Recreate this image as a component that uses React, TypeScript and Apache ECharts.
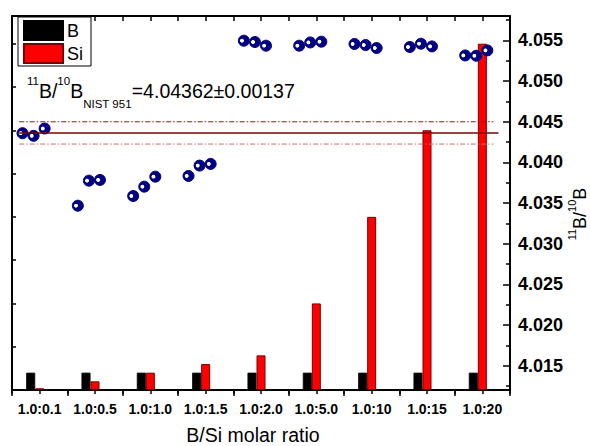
import React, { useEffect, useRef } from 'react';
import * as echarts from 'echarts';

const categories = ['1.0:0.1', '1.0:0.5', '1.0:1.0', '1.0:1.5', '1.0:2.0', '1.0:5.0', '1.0:10', '1.0:15', '1.0:20'];
const bMolar = [1, 1, 1, 1, 1, 1, 1, 1, 1];
const siMolar = [0.1, 0.5, 1.0, 1.5, 2.0, 5.0, 10, 15, 20];
const ratioRep1 = [4.04359, 4.03467, 4.03586, 4.03833, 4.05496, 4.05435, 4.05456, 4.05419, 4.05315];
const ratioRep2 = [4.04326, 4.03775, 4.03701, 4.0396, 4.0548, 4.05475, 4.05443, 4.05459, 4.05311];
const ratioRep3 = [4.04416, 4.03784, 4.03824, 4.03981, 4.05435, 4.05484, 4.05406, 4.05426, 4.05377];
const replicateOffsets = [-0.31, -0.11, 0.09];
const refRatio = 4.04362;
const refSD = 0.00137;

const FONT = '"Liberation Sans", Arial, Helvetica, sans-serif';

export default function App() {
  const ref = useRef<HTMLDivElement>(null);
  useEffect(() => {
    if (!ref.current) return;
    const chart = echarts.init(ref.current, null, { renderer: 'svg' });
    const reps = [ratioRep1, ratioRep2, ratioRep3];
    const scatterData: number[][] = [];
    categories.forEach((_, i) => {
      reps.forEach((r, k) => scatterData.push([i + 0.5 + replicateOffsets[k], r[i]]));
    });
    const halfCats = Array.from({ length: categories.length * 2 }, (_, i) => String(i));
    const solidSpan = [0.13, 8.79];
    const dashSpan = [0.13, 8.7];
    const axisLine = { show: true, lineStyle: { color: '#000', width: 2 } };

    chart.setOption({
      animation: false,
      backgroundColor: '#fff',
      textStyle: { fontFamily: FONT },
      grid: { left: 12, right: 80, top: 16, bottom: 56, containLabel: false },
      legend: {
        left: 18,
        top: 17,
        orient: 'vertical',
        data: ['B', 'Si'],
        icon: 'rect',
        itemWidth: 39,
        itemHeight: 19,
        itemGap: 2,
        padding: [3, 8, 2, 5],
        borderColor: '#000',
        borderWidth: 1,
        backgroundColor: '#fff',
        textStyle: { fontFamily: FONT, fontSize: 18, color: '#000', padding: [0, 0, 0, -1] },
        z: 10,
      },
      xAxis: [
        {
          type: 'category',
          data: categories,
          position: 'bottom',
          boundaryGap: true,
          axisLine,
          axisTick: { show: true, inside: false, length: 6, alignWithLabel: false, lineStyle: { color: '#000', width: 1.5 } },
          axisLabel: { show: true, fontFamily: FONT, fontSize: 14, fontWeight: 'bold', color: '#000', margin: 12, interval: 0 },
          splitLine: { show: false },
        },
        {
          type: 'category',
          data: halfCats,
          position: 'bottom',
          boundaryGap: true,
          axisLine: { show: false },
          axisTick: { show: true, inside: false, length: 4, lineStyle: { color: '#000', width: 1.5 } },
          axisLabel: { show: false },
          splitLine: { show: false },
        },
        {
          type: 'category',
          data: halfCats,
          position: 'top',
          boundaryGap: true,
          axisLine,
          axisTick: { show: true, inside: true, length: 5, lineStyle: { color: '#000', width: 1.5 } },
          axisLabel: { show: false },
          splitLine: { show: false },
        },
        {
          type: 'value',
          min: 0,
          max: categories.length,
          show: false,
        },
      ],
      yAxis: [
        {
          type: 'value',
          position: 'left',
          min: 0,
          max: 21.6,
          interval: 2.5,
          axisLine,
          axisTick: { show: true, inside: true, length: 4, lineStyle: { color: '#000', width: 1.5 } },
          axisLabel: { show: false },
          splitLine: { show: false },
        },
        {
          type: 'value',
          position: 'right',
          min: 4.012,
          max: 4.058,
          splitNumber: 9,
          axisLine,
          axisTick: { show: true, inside: true, length: 7, lineStyle: { color: '#000', width: 1.5 } },
          minorTick: { show: true, splitNumber: 2, length: 4, lineStyle: { color: '#000', width: 1.5 } },
          axisLabel: {
            show: true,
            fontFamily: FONT,
            fontSize: 18,
            fontWeight: 'bold',
            color: '#000',
            margin: 8,
            showMinLabel: false,
            showMaxLabel: false,
            formatter: (v: number) => (Math.abs(v * 200 - Math.round(v * 200)) < 1e-6 ? v.toFixed(3) : ''),
          },
          splitLine: { show: false },
          minorSplitLine: { show: false },
        },
      ],
      graphic: [
        {
          type: 'text',
          x: 27,
          y: 91,
          z: 20,
          style: {
            text: `{a|11}{b|B/}{a|10}{b|B}{c|NIST 951}{b|=${refRatio.toFixed(5)}±${refSD.toFixed(5)}}`,
            fontFamily: FONT,
            verticalAlign: 'middle',
            align: 'left',
            fill: '#000',
            rich: {
              a: { fontSize: 11.5, fontFamily: FONT, fill: '#000', padding: [0, 0, 20, 0] },
              b: { fontSize: 19.5, fontFamily: FONT, fill: '#000' },
              c: { fontSize: 11.5, fontFamily: FONT, fill: '#000', padding: [26, 0, 0, 0] },
            },
          },
        },
        {
          type: 'text',
          x: 580,
          y: 214,
          rotation: Math.PI / 2,
          z: 20,
          style: {
            text: '{a|11}{b|B/}{a|10}{b|B}',
            fontFamily: FONT,
            verticalAlign: 'middle',
            align: 'center',
            fill: '#000',
            rich: {
              a: { fontSize: 11, fontFamily: FONT, fill: '#000', padding: [0, 0, 16, 0] },
              b: { fontSize: 18, fontFamily: FONT, fill: '#000' },
            },
          },
        },
        {
          type: 'text',
          x: 253,
          y: 435,
          z: 20,
          style: {
            text: 'B/Si molar ratio',
            fontFamily: FONT,
            fontSize: 19.5,
            fill: '#000',
            align: 'center',
            verticalAlign: 'middle',
          },
        },
      ],
      series: [
        {
          name: 'B',
          type: 'bar',
          xAxisIndex: 0,
          yAxisIndex: 0,
          data: bMolar,
          barWidth: 9,
          barGap: '0%',
          itemStyle: { color: '#000', borderColor: '#000', borderWidth: 0.8 },
        },
        {
          name: 'Si',
          type: 'bar',
          xAxisIndex: 0,
          yAxisIndex: 0,
          data: siMolar,
          barWidth: 9,
          barGap: '0%',
          itemStyle: { color: '#ff0000', borderColor: '#7a0000', borderWidth: 1 },
        },
        {
          name: '_pad',
          type: 'bar',
          xAxisIndex: 0,
          yAxisIndex: 0,
          data: categories.map(() => null),
          barWidth: 9,
          barGap: '0%',
          silent: true,
        },
        {
          name: 'upper',
          type: 'line',
          xAxisIndex: 3,
          yAxisIndex: 1,
          data: dashSpan.map((x) => [x, refRatio + refSD]),
          symbol: 'none',
          silent: true,
          lineStyle: { color: '#a01010', width: 1, type: [5, 2, 1.5, 2] },
        },
        {
          name: 'mean',
          type: 'line',
          xAxisIndex: 3,
          yAxisIndex: 1,
          data: solidSpan.map((x) => [x, refRatio]),
          symbol: 'none',
          silent: true,
          lineStyle: { color: '#800000', width: 1.5 },
        },
        {
          name: 'lower',
          type: 'line',
          xAxisIndex: 3,
          yAxisIndex: 1,
          data: dashSpan.map((x) => [x, refRatio - refSD]),
          symbol: 'none',
          silent: true,
          lineStyle: { color: '#c07070', width: 1, type: [5, 2, 1.5, 2] },
        },
        {
          name: 'ratio',
          type: 'scatter',
          xAxisIndex: 3,
          yAxisIndex: 1,
          data: scatterData,
          symbol: 'circle',
          symbolSize: 11,
          itemStyle: {
            color: {
              type: 'radial',
              x: 0.33,
              y: 0.5,
              r: 0.5,
              colorStops: [
                { offset: 0, color: '#ffffff' },
                { offset: 0.28, color: '#ffffff' },
                { offset: 0.42, color: '#000080' },
                { offset: 1, color: '#000080' },
              ],
            },
            borderColor: '#000080',
            borderWidth: 1,
            opacity: 1,
          },
        },
      ],
    });
    return () => chart.dispose();
  }, []);
  return <div ref={ref} style={{ position: 'absolute', left: 0, top: 0, width: 590, height: 446 }} />;
}
